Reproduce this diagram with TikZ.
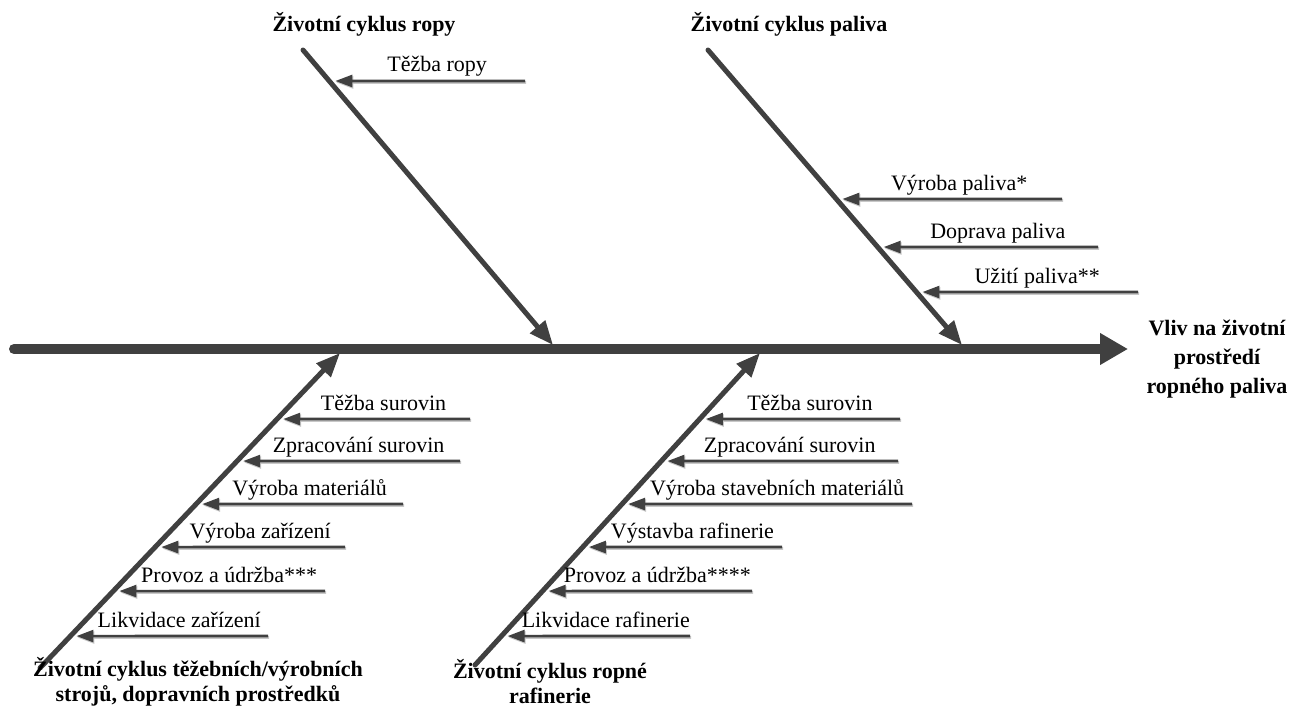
\documentclass[tikz,border=0pt]{standalone}
\usepackage{fontspec}
\setmainfont{Liberation Serif}
\usetikzlibrary{arrows.meta}
\definecolor{ink}{HTML}{404040}
\definecolor{haze}{HTML}{C8C8C8}
\begin{document}
\begin{tikzpicture}[x=1pt,y=-1pt,
  spine/.style={draw=ink, line width=10pt, line cap=round, -{Triangle[length=28pt,width=30pt]}},
  bone/.style={draw=ink, line width=5pt, line cap=round, -{Triangle[length=24pt,width=19pt]}},
  cause/.style={draw=ink, line width=2.6pt, -{Triangle[length=17pt,width=12pt]}, shorten >=6pt},
  causeshade/.style={draw=haze, line width=2.6pt, -{Triangle[length=17pt,width=12pt]}, shorten >=6pt},
  lbl/.style={font=\fontsize{22}{25}\selectfont, inner sep=0pt, anchor=base, yshift=9pt, xshift=10pt},
  title/.style={font=\fontsize{22}{25}\selectfont\bfseries, align=center, inner sep=0pt}
]
\useasboundingbox (0,0) rectangle (1295,708);

% main spine
\coordinate (s0) at (14,349);
\coordinate (s1) at (1128,349);
\draw[spine] (s0) -- (s1);

% bones
\coordinate (ulA) at (303,50);  \coordinate (ulB) at (553,345);
\coordinate (urA) at (708,50);  \coordinate (urB) at (962,345);
\coordinate (llA) at (40,668);  \coordinate (llB) at (340,353);
\coordinate (lrA) at (475,665); \coordinate (lrB) at (760,353);
\foreach \bn in {ul,ur,ll,lr} \draw[bone] (\bn A) -- (\bn B);

% causes: id / y / right end / bone / text
\foreach \n/\y/\xr/\bn/\t in {
  1/81/525/ul/Těžba ropy,
  2/199/1062/ur/Výroba paliva*,
  3/247/1098/ur/Doprava paliva,
  4/292/1138/ur/Užití paliva**,
  5/419/470/ll/Těžba surovin,
  6/461/460/ll/Zpracování surovin,
  7/504/403/ll/Výroba materiálů,
  8/547/345/ll/Výroba zařízení,
  9/591/325/ll/Provoz a údržba***,
  10/636/268/ll/Likvidace zařízení,
  11/419/900/lr/Těžba surovin,
  12/461/898/lr/Zpracování surovin,
  13/504/912/lr/Výroba stavebních materiálů,
  14/547/782/lr/Výstavba rafinerie,
  15/591/752/lr/Provoz a údržba****,
  16/636/690/lr/Likvidace rafinerie}{
  \coordinate (e\n) at (\xr,\y);
  \coordinate (h\n) at (0,\y);
  \coordinate (t\n) at (intersection of {e\n}--{h\n} and {\bn A}--{\bn B});
  \draw[causeshade, transform canvas={xshift=1pt,yshift=-1.5pt}] (e\n) -- (t\n);
  \draw[cause] (e\n) -- (t\n) node[lbl, midway] (l\n) {\t};
}

% titles
\node[title] (oil) at (364,24) {Životní cyklus ropy};
\node[title] (fuel) at (789,24) {Životní cyklus paliva};
\node[title, font=\fontsize{22}{29}\selectfont\bfseries] (effect) at (1217,359) {Vliv na životní\\prostředí\\ropného paliva};
\node[title] (mach) at (198,682) {Životní cyklus těžebních/výrobních\\strojů, dopravních prostředků};
\node[title] (refin) at (550,682) {Životní cyklus ropné\\rafinerie};
\end{tikzpicture}
\end{document}
